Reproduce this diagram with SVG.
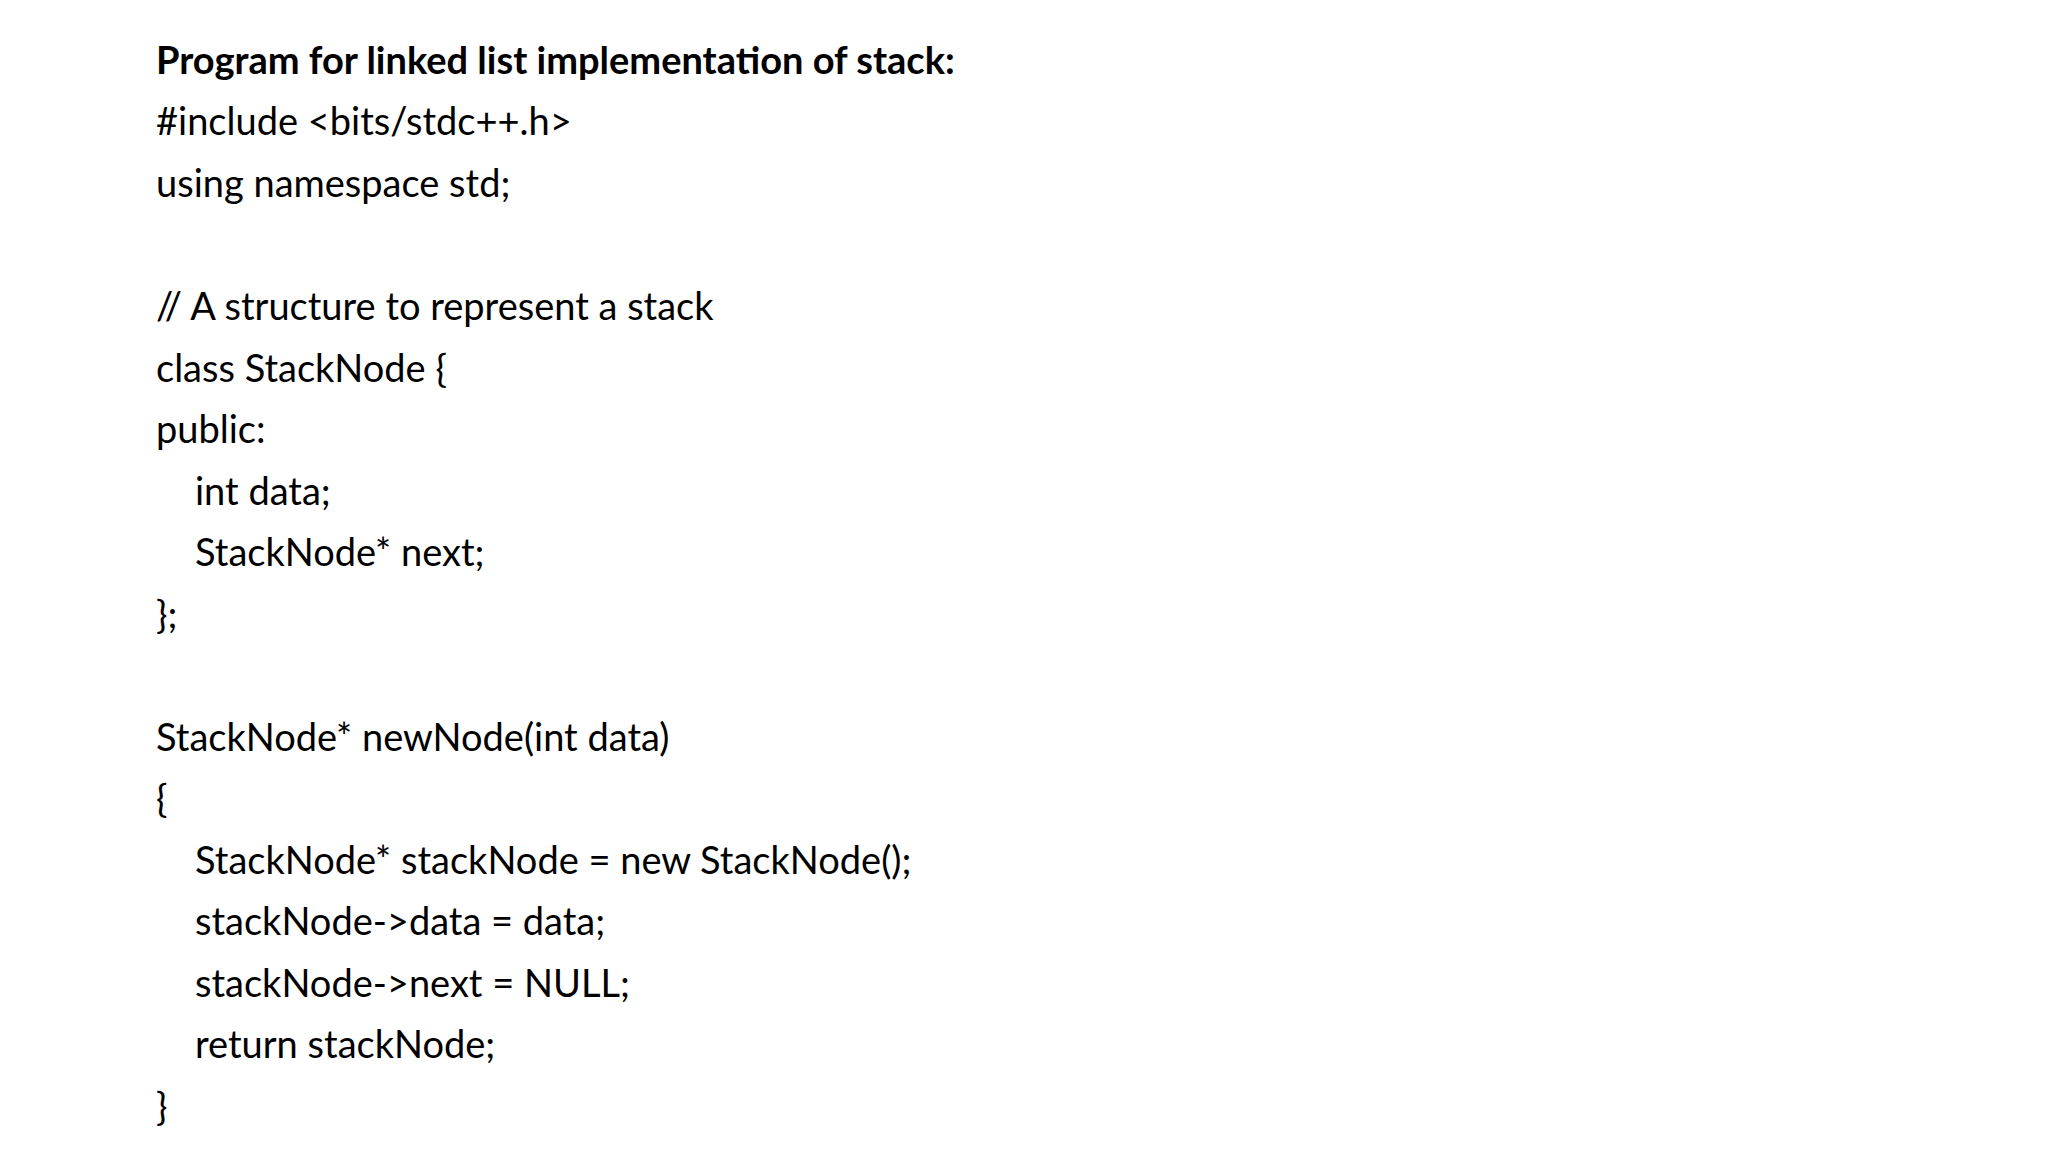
<svg xmlns="http://www.w3.org/2000/svg" width="2048" height="1152" viewBox="0 0 2048 1152">
<style>
text{font-family:Lato,"Liberation Sans",sans-serif;font-size:38px;fill:#000}
.b{font-weight:bold}
</style>
<rect width="2048" height="1152" fill="#fff"/>
<g id="code">
<text class="b" x="156" y="74">Program for linked list implementation of stack:</text>
<text x="156" y="135">#include &lt;bits/stdc++.h&gt;</text>
<text x="156" y="197">using namespace std;</text>
<text x="156" y="320">// A structure to represent a stack</text>
<text x="156" y="382">class StackNode {</text>
<text x="156" y="443">public:</text>
<text x="195" y="505">int data;</text>
<text x="195" y="566">StackNode* next;</text>
<text x="156" y="628">};</text>
<text x="156" y="751">StackNode* newNode(int data)</text>
<text x="156" y="812">{</text>
<text x="195" y="874">StackNode* stackNode = new StackNode();</text>
<text x="195" y="935">stackNode-&gt;data = data;</text>
<text x="195" y="997">stackNode-&gt;next = NULL;</text>
<text x="195" y="1058">return stackNode;</text>
<text x="156" y="1120">}</text>
</g>
</svg>
